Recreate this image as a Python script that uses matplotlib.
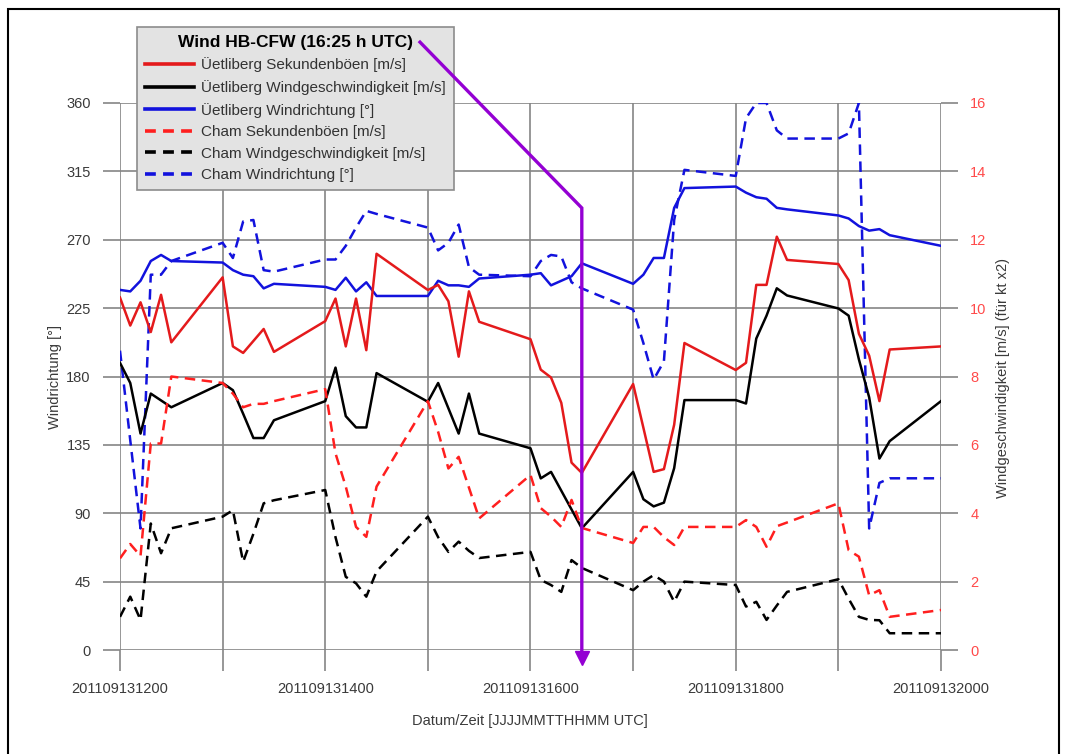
import matplotlib
matplotlib.use("Agg")
import matplotlib.pyplot as plt
import matplotlib.dates as mdates
import pandas as pd
from matplotlib.lines import Line2D
from matplotlib.patches import Rectangle

# ---------------- data ----------------
times = ["12:00", "12:06", "12:12", "12:18", "12:24", "12:30",
         "13:00", "13:06", "13:12", "13:18", "13:24", "13:30",
         "14:00", "14:06", "14:12", "14:18", "14:24", "14:30",
         "15:00", "15:06", "15:12", "15:18", "15:24", "15:30",
         "16:00", "16:06", "16:12", "16:18", "16:24", "16:30",
         "17:00", "17:06", "17:12", "17:18", "17:24", "17:30",
         "18:00", "18:06", "18:12", "18:18", "18:24", "18:30",
         "19:00", "19:06", "19:12", "19:18", "19:24", "19:30",
         "20:00"]

uet_gust = [10.31, 9.49, 10.17, 9.30, 10.39, 9.00,
            10.90, 8.88, 8.69, 9.04, 9.39, 8.72,
            9.62, 10.28, 8.88, 10.28, 8.77, 11.59,
            10.53, 10.68, 10.20, 8.58, 10.49, 9.60,
            9.09, 8.20, 7.97, 7.23, 5.48, 5.18,
            7.78, 6.50, 5.21, 5.29, 6.59, 8.98,
            8.19, 8.40, 10.68, 10.68, 12.09, 11.41,
            11.29, 10.82, 9.25, 8.61, 7.28, 8.79,
            8.88]

uet_speed = [8.40, 7.81, 6.33, 7.50, 7.30, 7.10,
             7.81, 7.60, 6.91, 6.20, 6.20, 6.72,
             7.28, 8.26, 6.84, 6.51, 6.51, 8.10,
             7.26, 7.81, 7.07, 6.33, 7.50, 6.33,
             5.90, 5.02, 5.21, 4.66, 4.11, 3.56,
             5.21, 4.41, 4.20, 4.31, 5.32, 7.31,
             7.31, 7.21, 9.11, 9.78, 10.58, 10.37,
             9.99, 9.78, 8.50, 7.39, 5.60, 6.11,
             7.28]

uet_dir = [237, 236, 243, 256, 260, 256,
           255, 250, 247, 246, 238, 241,
           239, 237, 245, 236, 242, 233,
           233, 243, 240, 240, 239, 244.5,
           247, 248, 240, 243, 246, 254.5,
           241, 247, 258, 258, 291, 304,
           305, 301, 298, 297, 291, 290,
           286, 284, 279, 276, 277, 273,
           266]

cham_gust = [2.68, 3.10, 2.75, 6.04, 6.04, 8.00,
             7.81, 7.50, 7.10, 7.20, 7.20, 7.28,
             7.63, 5.75, 4.78, 3.60, 3.31, 4.78,
             7.28, 6.38, 5.31, 5.65, 4.75, 3.85,
             5.12, 4.15, 3.90, 3.60, 4.39, 3.57,
             3.13, 3.60, 3.60, 3.30, 3.07, 3.60,
             3.60, 3.80, 3.60, 3.02, 3.62, 3.73,
             4.29, 2.92, 2.73, 1.60, 1.75, 0.97,
             1.17]

cham_speed = [0.97, 1.56, 0.88, 3.70, 2.83, 3.56,
              3.90, 4.09, 2.58, 3.40, 4.29, 4.38,
              4.68, 3.30, 2.14, 1.95, 1.56, 2.30,
              3.90, 3.30, 2.87, 3.17, 2.90, 2.69,
              2.87, 2.05, 1.90, 1.70, 2.63, 2.40,
              1.75, 2.00, 2.19, 2.00, 1.41, 2.00,
              1.90, 1.27, 1.41, 0.88, 1.30, 1.70,
              2.07, 1.50, 0.97, 0.88, 0.87, 0.49,
              0.49]

cham_dir = [197, 138, 80, 247, 247, 256,
            268, 258, 282, 283, 250, 249,
            257, 257, 266, 278, 289, 287,
            278, 263, 268, 280, 252, 247,
            246, 256, 260, 259, 242, 238,
            224, 202, 178, 190, 283, 316,
            312, 350, 360, 360, 342, 336.6,
            336.6, 340, 360, 80, 110, 113,
            113]

series_labels = ["Üetliberg Sekundenböen [m/s]",
                 "Üetliberg Windgeschwindigkeit [m/s]",
                 "Üetliberg Windrichtung [°]",
                 "Cham Sekundenböen [m/s]",
                 "Cham Windgeschwindigkeit [m/s]",
                 "Cham Windrichtung [°]"]
legend_title = "Wind HB-CFW (16:25 h UTC)"

dir_ticks = [0, 45, 90, 135, 180, 225, 270, 315, 360]
speed_ticks = [0, 2, 4, 6, 8, 10, 12, 14, 16]

x_label = "Datum/Zeit [JJJJMMTTHHMM UTC]"
left_label = "Windrichtung [°]"
right_label = "Windgeschwindigkeit [m/s] (für kt x2)"

# purple marker arrow (from legend title to the event time)
arrow_times = ["14:55:24", "16:30:00", "16:30:00"]
arrow_speed = [17.78, 12.93, -0.22]

# ---------------- styling ----------------
plt.rcParams['font.family'] = ['Liberation Sans', 'DejaVu Sans']
W, H = 1066, 754
grid_col = '#858585'
red_solid = '#e41a1c'
red_dash = '#ff1f1f'
blue = '#1212dd'
lw = 1.8
dash = (0, (4.2, 2.6))

day = "2011-09-13 "
t = pd.to_datetime([day + s for s in times], format="%Y-%m-%d %H:%M")
t_arrow = pd.to_datetime([day + s for s in arrow_times], format="%Y-%m-%d %H:%M:%S")

fig = plt.figure(figsize=(W / 100, H / 100), dpi=100)
ax = fig.add_axes([120 / W, 1 - 650 / H, (941 - 120) / W, (650 - 103) / H])
ax2 = ax.twinx()

for a in (ax, ax2):
    for s in a.spines.values():
        s.set_visible(False)

# direction series (left axis)
ax.plot(t, uet_dir, color=blue, lw=lw)
ax.plot(t, cham_dir, color=blue, lw=lw, linestyle=dash)
ax.set_ylim(0, 360)
ax.set_yticks(dir_ticks)
ax.set_xlim(t[0], t[-1])

# speed series (right axis)
ax2.plot(t, uet_gust, color=red_solid, lw=lw)
ax2.plot(t, uet_speed, color='black', lw=lw)
ax2.plot(t, cham_gust, color=red_dash, lw=lw, linestyle=dash)
ax2.plot(t, cham_speed, color='black', lw=lw, linestyle=dash)
ax2.set_ylim(0, 16)
ax2.set_yticks(speed_ticks)
ax2.set_xlim(t[0], t[-1])

# x axis
ax.xaxis.set_major_locator(mdates.HourLocator(byhour=[12, 14, 16, 18, 20]))
ax.xaxis.set_minor_locator(mdates.HourLocator(byhour=[13, 15, 17, 19]))
ax.xaxis.set_major_formatter(mdates.DateFormatter('%Y%m%d%H%M'))

ax.grid(True, which='both', axis='x', color=grid_col, lw=1.2)
ax.grid(True, which='major', axis='y', color=grid_col, lw=1.2)
ax.set_axisbelow(True)

ax.tick_params(axis='x', which='both', length=15, width=1.2, color=grid_col,
               pad=8, labelsize=10.5, labelcolor='#3a3a3a')
ax.tick_params(axis='y', length=12, width=1.2, color=grid_col, pad=9,
               labelsize=10.5, labelcolor='#3a3a3a')
ax2.tick_params(axis='y', length=12, width=1.2, color=grid_col, pad=9,
                labelsize=10.5, labelcolor='#ff4a4a')

# axis titles
fig.text(55 / W, 1 - 377 / H, left_label, rotation=90, ha='center', va='center',
         fontsize=10.5, color='#3a3a3a')
fig.text(1003 / W, 1 - 378 / H, right_label, rotation=90, ha='center', va='center',
         fontsize=10.5, color='#3a3a3a')
fig.text(530 / W, 1 - 721 / H, x_label, ha='center', va='center',
         fontsize=10.5, color='#3a3a3a')

# legend
handles = [Line2D([], [], color=red_solid, lw=2.6),
           Line2D([], [], color='black', lw=2.6),
           Line2D([], [], color=blue, lw=2.6),
           Line2D([], [], color=red_dash, lw=2.6, linestyle=(0, (3, 2))),
           Line2D([], [], color='black', lw=2.6, linestyle=(0, (3, 2))),
           Line2D([], [], color=blue, lw=2.6, linestyle=(0, (3, 2)))]
leg = ax2.legend(handles, series_labels, title=legend_title,
                 title_fontproperties={'weight': 'bold', 'size': 12.5},
                 loc='upper left', bbox_to_anchor=(137 / W, 1 - 27 / H),
                 bbox_transform=fig.transFigure, fontsize=11,
                 frameon=True, fancybox=False, framealpha=1,
                 facecolor='#e3e3e3', edgecolor='#8c8c8c',
                 borderpad=0.5, labelspacing=0.5, handlelength=3.2,
                 handletextpad=0.5, borderaxespad=0)
leg.get_frame().set_linewidth(1.2)
leg.set_zorder(5)
for txt in leg.get_texts():
    txt.set_color('#333333')

# purple event arrow
ax2.plot(t_arrow, arrow_speed, color='#9400d3', lw=2.4, clip_on=False,
         zorder=10, solid_joinstyle='miter')
ax2.plot(t_arrow[-1:], arrow_speed[-1:], marker='v', color='#9400d3',
         markersize=10, clip_on=False, zorder=10, linestyle='none')

# outer frame of the picture
fig.add_artist(Rectangle((8 / W, -0.05), (1059 - 8) / W, 1.05 - 9 / H,
                         transform=fig.transFigure, fill=False,
                         edgecolor='black', lw=1.5))

fig.savefig("out.png", dpi=100)
